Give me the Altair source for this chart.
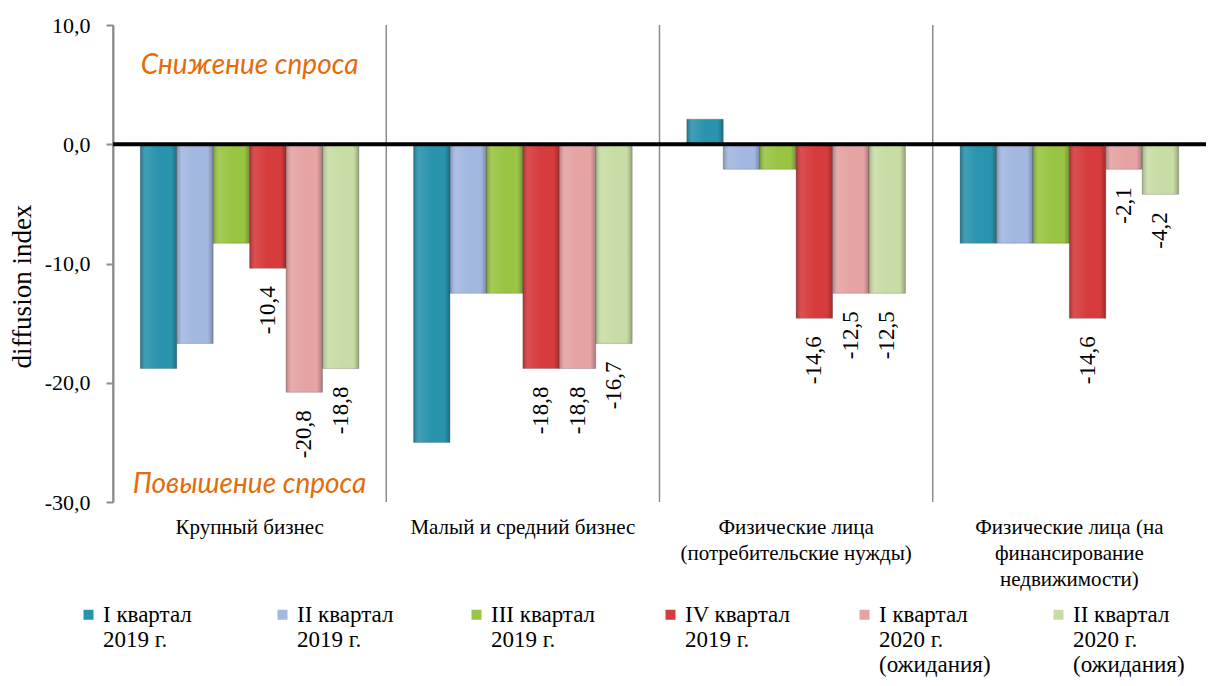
import altair as alt
import pandas as pd

# "|" marks a line break in category / series names (split in labelExpr)
categories = [
    "Крупный бизнес",
    "Малый и средний бизнес",
    "Физические лица|(потребительские нужды)",
    "Физические лица (на|финансирование|недвижимости)",
]
series = [
    "I квартал|2019 г.",
    "II квартал|2019 г.",
    "III квартал|2019 г.",
    "IV квартал|2019 г.",
    "I квартал|2020 г.|(ожидания)",
    "II квартал|2020 г.|(ожидания)",
]
q1_2019 = [-18.8, -25.0, 2.1, -8.3]
q2_2019 = [-16.7, -12.5, -2.1, -8.3]
q3_2019 = [-8.3, -12.5, -2.1, -8.3]
q4_2019 = [-10.4, -18.8, -14.6, -14.6]
q1_2020 = [-20.8, -18.8, -12.5, -2.1]
q2_2020 = [-18.8, -16.7, -12.5, -4.2]
series_values = [q1_2019, q2_2019, q3_2019, q4_2019, q1_2020, q2_2020]
colors = ["#2A93AE", "#A3B8E0", "#9AC544", "#D63B3D", "#E5A3A4", "#C8DDA5"]
labeled_series = series[3:]
y_ticks = [10, 0, -10, -20, -30]

note_texts = ["Снижение спроса", "Повышение спроса"]
note_values = [6.55, -28.55]

rows = []
for s, vals in zip(series, series_values):
    for c, v in zip(categories, vals):
        rows.append({"cat": c, "series": s, "value": v})
df = pd.DataFrame(rows)

notes = pd.DataFrame({"cat": [categories[0]] * 2, "value": note_values, "text": note_texts})
cats_df = pd.DataFrame({"cat": categories})
zero_df = pd.DataFrame({"v": [0]})

SERIF = "Liberation Serif, Times New Roman, Times, serif"
NUM_EXPR = "replace(replace(format(datum.value, '.1f'), '.', ','), '\u2212', '-')"

x_scale = alt.Scale(domain=categories, paddingInner=0, paddingOuter=0)
y_scale = alt.Scale(domain=[-30, 10], nice=False, zero=False)

x_enc = alt.X(
    "cat:N", sort=categories, scale=x_scale, title=None,
    axis=alt.Axis(
        orient="bottom", domain=False, ticks=False, labelAngle=0, bandPosition=0.5,
        labelFont=SERIF, labelFontSize=21, labelColor="black",
        labelLineHeight=26, labelPadding=14, labelLimit=400,
        labelAlign="center", labelFlush=False,
        labelExpr="split(datum.label, '|')",
    ),
)
y_enc = alt.Y(
    "value:Q", scale=y_scale, title="diffusion index",
    axis=alt.Axis(
        values=y_ticks, grid=False,
        labelExpr=NUM_EXPR,
        labelFont=SERIF, labelFontSize=22, labelColor="black", labelPadding=16,
        domainColor="#8c8c8c", domainWidth=2, tickColor="#8c8c8c", tickWidth=2, tickSize=7,
        titleFont=SERIF, titleFontSize=27, titleFontWeight="normal", titleColor="black",
        titlePadding=8, titleY=261,
    ),
)
xoff = alt.XOffset("series:N", sort=series,
                   scale=alt.Scale(domain=series, paddingInner=0, paddingOuter=0.75))

bars = alt.Chart(df).mark_bar(stroke="#4a4a4a", strokeOpacity=0.35, strokeWidth=0.8).encode(
    x=x_enc,
    xOffset=xoff,
    y=y_enc,
    color=alt.Color(
        "series:N", sort=series, scale=alt.Scale(domain=series, range=colors),
        legend=alt.Legend(
            title=None, orient="none", legendX=-36, legendY=578,
            direction="horizontal", columns=6, columnPadding=56, gridAlign="all",
            symbolType="square", symbolSize=100, symbolStrokeWidth=0,
            labelFont=SERIF, labelFontSize=23, labelColor="black",
            labelExpr="split(datum.label + (length(split(datum.label, '|')) < 3 ? '| ' : ''), '|')",
            labelBaseline="middle",
            labelOffset=3, labelLimit=300, padding=0,
        ),
    ),
)

# subtle side shading to imitate the bevelled bars
shade = alt.Chart(df).mark_bar(
    color=alt.Gradient(
        gradient="linear", x1=0, x2=1, y1=0, y2=0,
        stops=[
            alt.GradientStop(color="rgba(0,0,0,0.22)", offset=0),
            alt.GradientStop(color="rgba(255,255,255,0.10)", offset=0.15),
            alt.GradientStop(color="rgba(255,255,255,0)", offset=0.5),
            alt.GradientStop(color="rgba(0,0,0,0)", offset=0.85),
            alt.GradientStop(color="rgba(0,0,0,0.25)", offset=1),
        ],
    )
).encode(
    x=alt.X("cat:N", sort=categories),
    xOffset=alt.XOffset("series:N", sort=series),
    y="value:Q",
)

dividers = alt.Chart(cats_df).mark_rule(color="#8c8c8c", strokeWidth=1.5).encode(
    x=alt.X("cat:N", sort=categories, bandPosition=0),
    y=alt.datum(10),
    y2=alt.datum(-30),
)

zero_line = alt.Chart(zero_df).mark_rule(color="black", strokeWidth=4).encode(y="v:Q")

labels = alt.Chart(df).transform_filter(
    alt.FieldOneOfPredicate(field="series", oneOf=labeled_series)
).transform_calculate(
    label=NUM_EXPR
).mark_text(
    angle=270, align="right", baseline="middle", dx=-18,
    font=SERIF, fontSize=23, color="black",
).encode(
    x=alt.X("cat:N", sort=categories),
    xOffset=alt.XOffset("series:N", sort=series),
    y="value:Q",
    text="label:N",
)

note_layer = alt.Chart(notes).mark_text(
    font="Lato", fontStyle="italic", fontSize=28, color="#E46C0A",
    align="center", baseline="middle",
).encode(
    x=alt.X("cat:N", sort=categories),
    y="value:Q",
    text="text:N",
)

chart = alt.layer(bars, shade, dividers, zero_line, labels, note_layer).properties(
    width=1093, height=477,
    padding={"left": 0, "top": 6, "right": 0, "bottom": 0},
).configure_view(stroke=None)

chart.save("out.html", embed_options={"renderer": "svg", "actions": False})
